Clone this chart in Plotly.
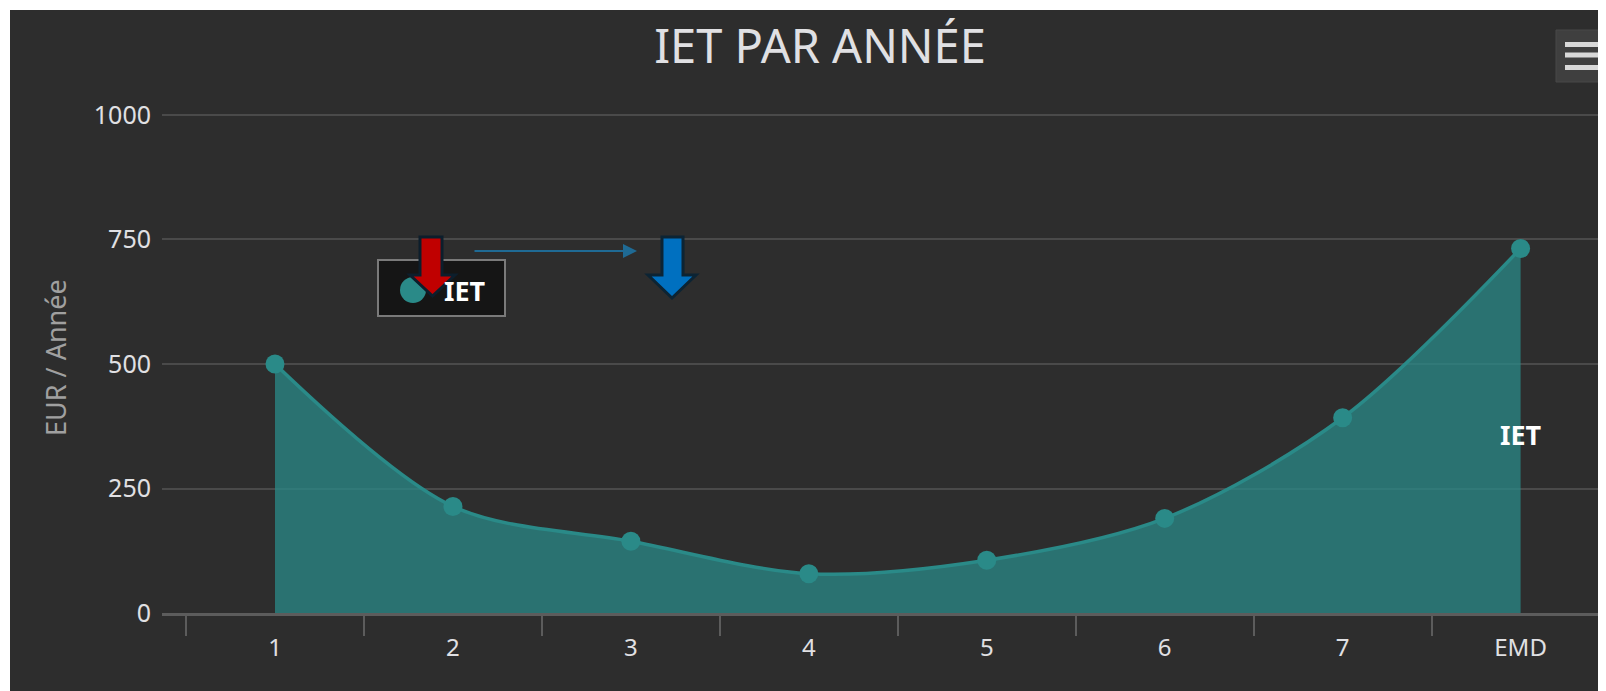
import plotly.graph_objects as go

# données
annees = ["1", "2", "3", "4", "5", "6", "7", "EMD"]
iet = [500, 214, 144, 79, 106, 190, 392, 732]
y_ticks = [0, 250, 500, 750, 1000]
y_max = 1006  # un peu au-dessus de 1000 pour garder la dernière ligne de grille

# la page html a une marge de 8 px : la figure est réduite d'autant
OFF = 8
W, H = 1606 - OFF, 691 - OFF
B = 78
PH = round(498 * y_max / 1000)
L, R, T = 162 - OFF, 0, H - B - PH
PW = W - L - R

TEAL = "#2a8a88"
TXT = "#e0e0e3"
BG = "#2d2d2d"


def px(x):
    # pixel de la fenêtre -> coordonnée paper (horizontale)
    return (x - OFF - L) / PW


def py(y):
    # pixel de la fenêtre -> coordonnée paper (verticale)
    return (OFF + T + PH - y) / PH


def path(points):
    return "M " + " L ".join(f"{px(a):.5f},{py(b):.5f}" for a, b in points) + " Z"


def down_arrow(x0, x1, hx0, hx1, top, neck, tip):
    xm = (hx0 + hx1) / 2
    return path([(x0, top), (x1, top), (x1, neck), (hx1, neck),
                 (xm, tip), (hx0, neck), (x0, neck)])


def rect(x0, y0, x1, y1, **kw):
    return dict(type="rect", xref="paper", yref="paper",
                x0=px(x0), x1=px(x1), y0=py(y1), y1=py(y0), **kw)


fig = go.Figure()

fig.add_trace(go.Scatter(
    x=annees,
    y=iet,
    name="IET",
    mode="lines+markers",
    line=dict(color=TEAL, width=3.5, shape="spline", smoothing=0.9),
    marker=dict(color=TEAL, size=19),
    fill="tozeroy",
    fillcolor="rgba(42,138,136,0.75)",
    showlegend=False,
    hoverinfo="x+y",
))

shapes = [
    # fond sombre avec marge blanche à gauche et en haut
    rect(10, 10, 1612, 700, layer="below", fillcolor=BG, line_width=0),
    # bouton menu
    rect(1556, 30, 1612, 82, fillcolor="#3f3f3f", line=dict(color="#484848", width=1)),
]
for yb in (44.5, 55, 67.5):
    shapes.append(rect(1565, yb - 2.5, 1603, yb + 2.5, fillcolor="#d8d8d8", line_width=0))

# légende dessinée à la main (la flèche rouge passe par-dessus)
shapes.append(rect(378, 260, 505, 316, fillcolor="#151515",
                   line=dict(color="#7a7a7a", width=2)))
shapes.append(dict(type="circle", xref="paper", yref="paper",
                   x0=px(400), x1=px(426), y0=py(303), y1=py(277),
                   fillcolor=TEAL, line_width=0))

# flèches rouge et bleue
shapes.append(dict(type="path", xref="paper", yref="paper",
                   path=down_arrow(420, 442, 410, 455, 237, 275, 296),
                   fillcolor="#c00000", line=dict(color="#0c1e2c", width=3)))
shapes.append(dict(type="path", xref="paper", yref="paper",
                   path=down_arrow(662, 683, 648, 696, 237, 275, 298),
                   fillcolor="#0070c0", line=dict(color="#0c2434", width=3)))

fig.update_layout(
    width=W,
    height=H,
    margin=dict(l=L, r=R, t=T, b=B),
    paper_bgcolor="white",
    plot_bgcolor="rgba(0,0,0,0)",
    showlegend=False,
    font=dict(family="Noto Sans", color=TXT, size=25),
    title=dict(text="IET PAR ANNÉE", x=(820 - OFF) / W, xref="container", xanchor="center",
               y=1 - (47 - OFF) / H, yref="container", yanchor="middle",
               font=dict(size=47, color=TXT)),
    xaxis=dict(
        type="category",
        categoryorder="array",
        categoryarray=annees,
        range=[-0.635, 7.48],
        showgrid=False,
        showline=True,
        linecolor="#5c5c5c",
        linewidth=3,
        ticks="outside",
        tickson="boundaries",
        ticklen=20,
        tickwidth=2,
        tickcolor="#5c5c5c",
        ticklabelstandoff=11,
        tickfont=dict(size=24, color=TXT),
        zeroline=False,
        fixedrange=True,
    ),
    yaxis=dict(
        range=[0, y_max],
        tickvals=y_ticks,
        showgrid=True,
        gridcolor="#4a4a4a",
        gridwidth=2,
        zeroline=False,
        showline=False,
        ticklabelstandoff=10,
        tickfont=dict(size=25, color=TXT),
        fixedrange=True,
    ),
    shapes=shapes,
    annotations=[
        dict(text="EUR / Année", textangle=-90, xref="paper", yref="paper",
             x=px(55), y=py(358), xanchor="center", yanchor="middle",
             showarrow=False, font=dict(size=27, color="#a0a0a0")),
        dict(text="IET", xref="paper", yref="paper", x=px(1521), y=py(434),
             xanchor="center", yanchor="middle", showarrow=False,
             font=dict(size=27, color="white", weight="bold")),
        # texte de la légende
        dict(text="IET", xref="paper", yref="paper", x=px(442), y=py(290),
             xanchor="left", yanchor="middle", showarrow=False,
             font=dict(size=27, color="white", weight="bold")),
        # fine flèche bleue
        dict(text="", xref="paper", yref="paper", x=px(637), y=py(251),
             ax=-164, ay=0, showarrow=True, arrowhead=2, arrowsize=1.4,
             arrowwidth=2, arrowcolor="#1f6a94"),
    ],
)

fig.write_html("out.html", config={"displayModeBar": False})
